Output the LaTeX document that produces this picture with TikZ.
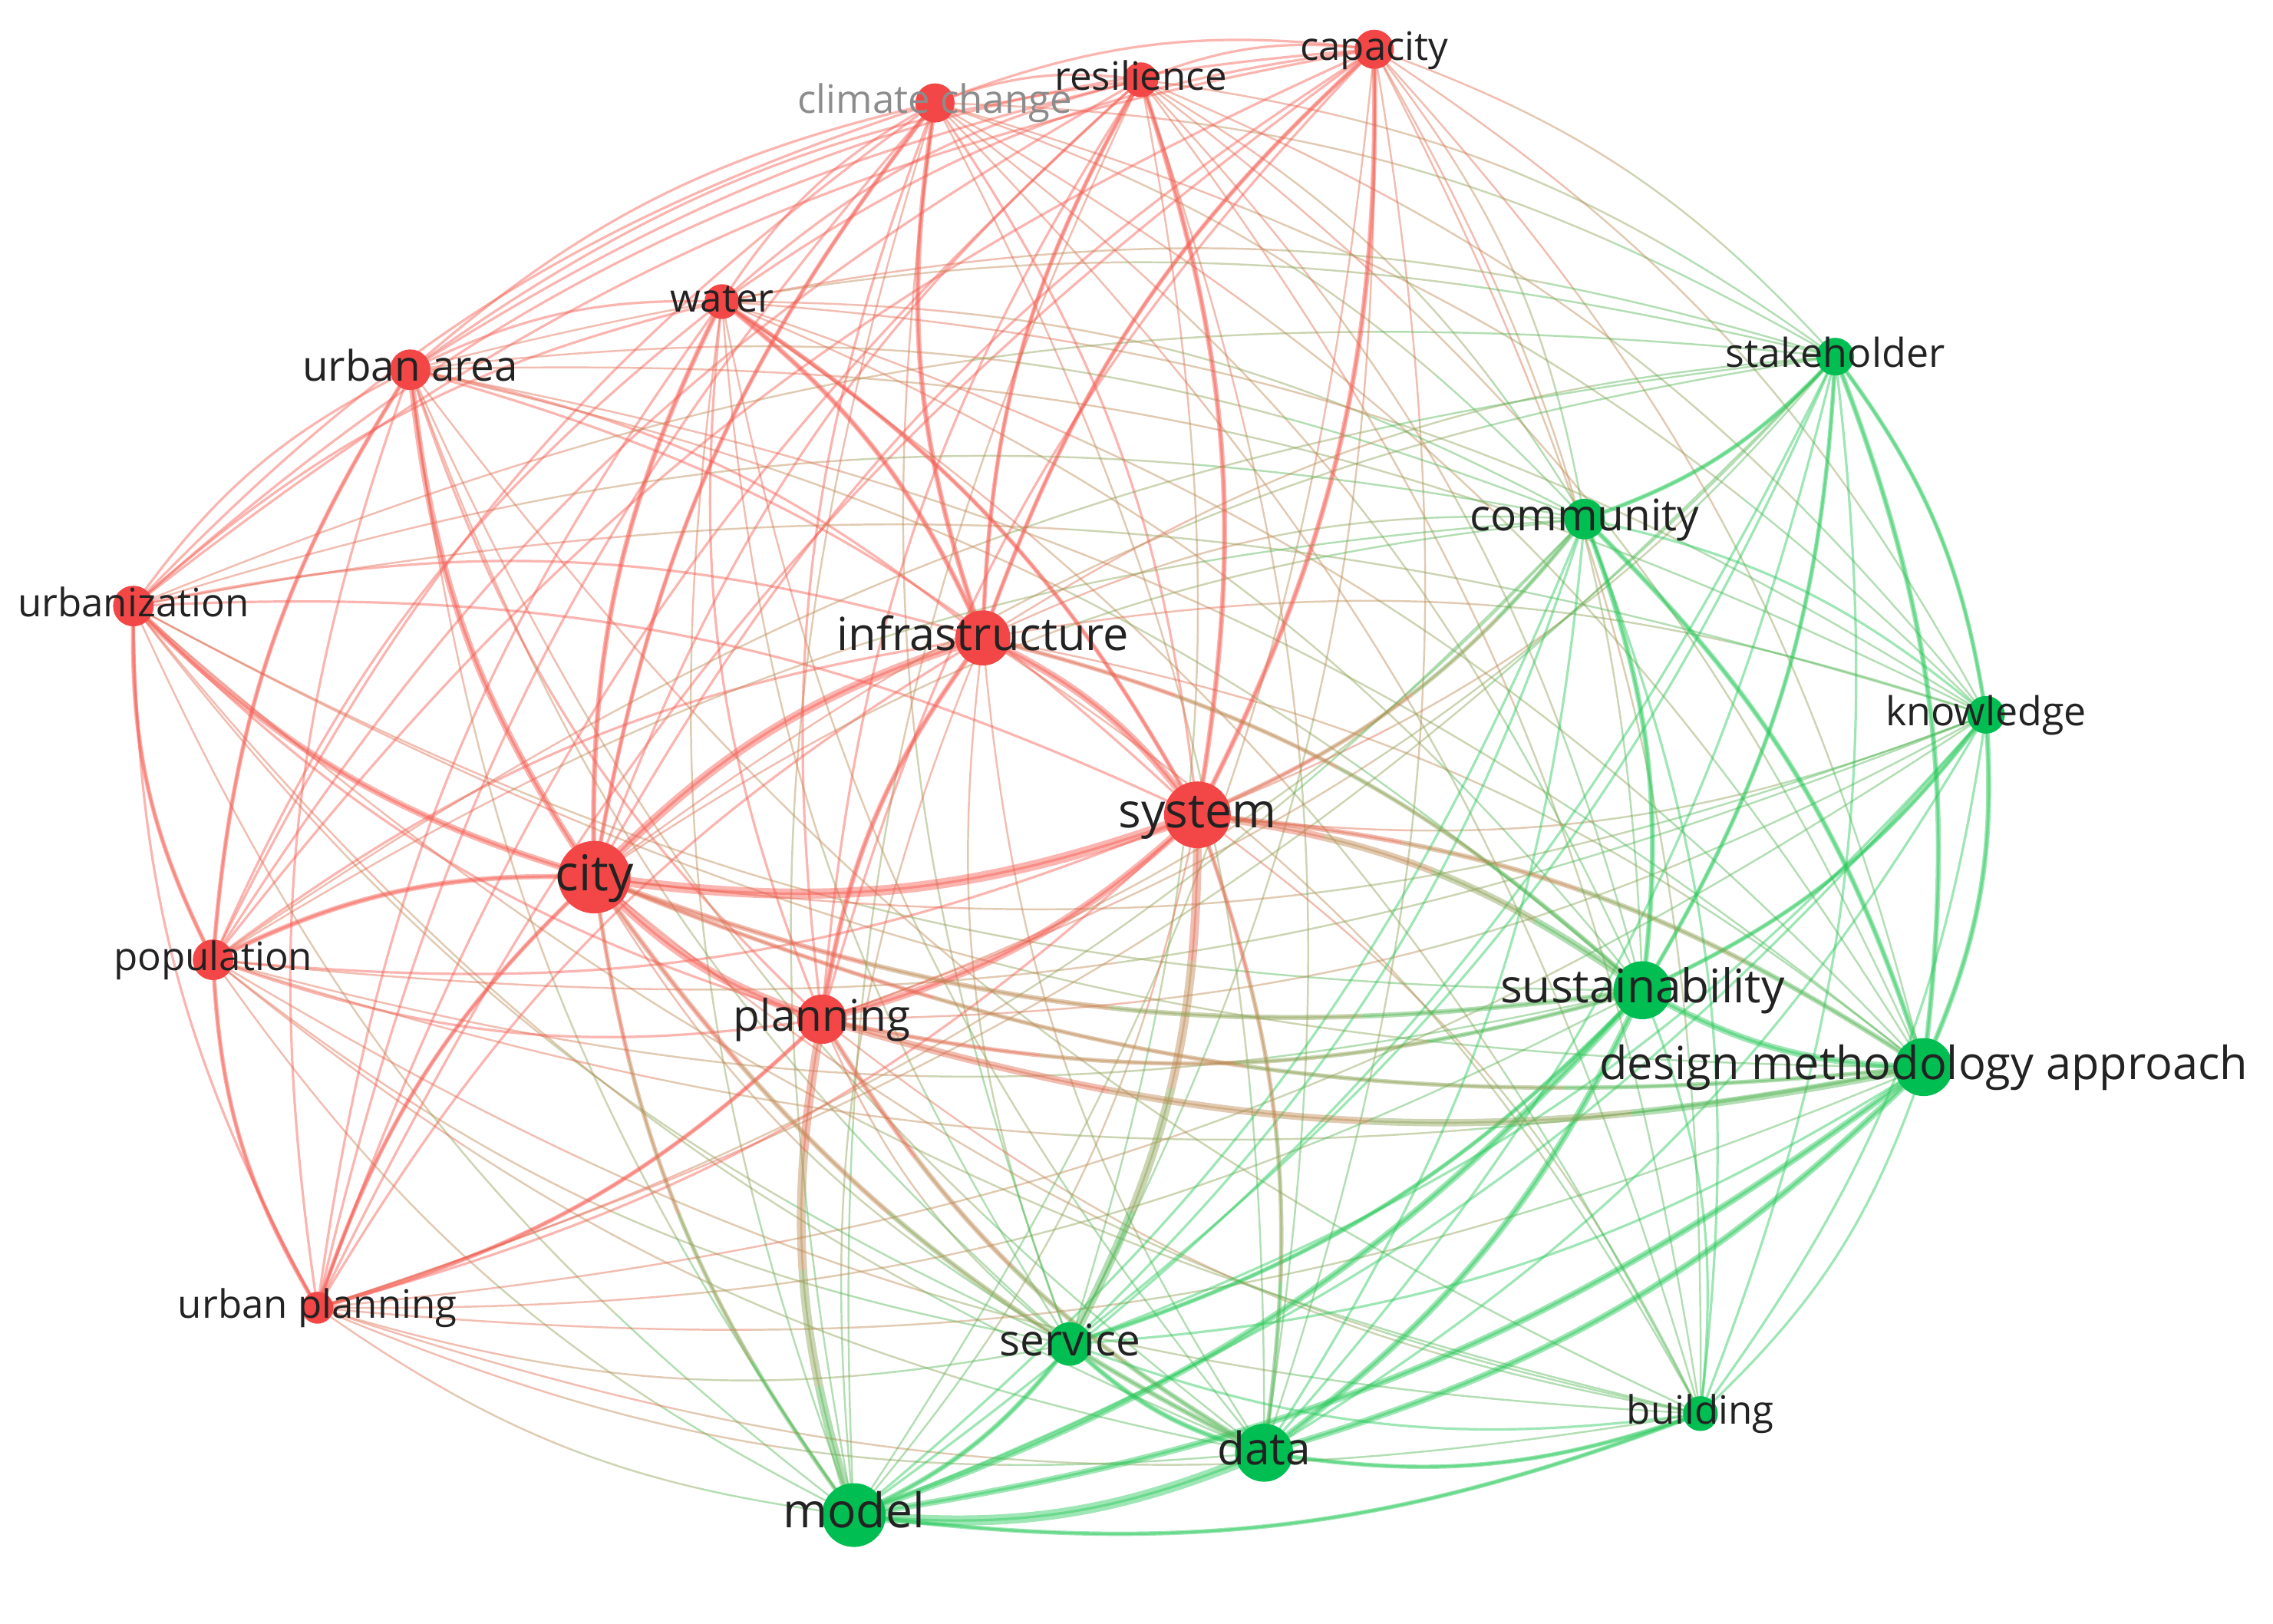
\documentclass[tikz,border=0pt]{standalone}
\usepackage{fontspec}
\setmainfont{Open Sans}
\usetikzlibrary{calc}
\definecolor{nred}{RGB}{243,70,70}
\definecolor{ngreen}{RGB}{0,190,82}
\definecolor{c-rr}{RGB}{245,90,80}
\definecolor{c-gg}{RGB}{40,200,90}
\definecolor{c-tan}{RGB}{175,150,85}
\colorlet{c-s1}{c-rr!70!c-tan}
\colorlet{c-s2}{c-tan!80!c-rr}
\colorlet{c-s3}{c-tan!75!c-gg}
\colorlet{c-s4}{c-gg!65!c-tan}
\definecolor{txt}{RGB}{34,34,34}
\definecolor{txtgrey}{RGB}{140,140,140}
\pgfdeclarelayer{bg}
\pgfsetlayers{bg,main}
\tikzset{
 edge/.style={draw=#1, draw opacity=0.45},
 rnode/.style={circle, fill=nred, inner sep=0pt, minimum size=#1},
 gnode/.style={circle, fill=ngreen, inner sep=0pt, minimum size=#1},
 lab/.style={inner sep=0pt, anchor=base},
}
\newcommand\mynode[5]{%
 \expandafter\gdef\csname px@#1\endcsname{#2}%
 \expandafter\gdef\csname py@#1\endcsname{#3}%
 \node[#4=#5] (#1) at (#2,#3) {};}
\newcommand\ctrlang[2]{%
 \pgfmathsetmacro\z{((\csname px@#2\endcsname-\csname px@#1\endcsname)/100)*((560-\csname py@#1\endcsname)/100)-((\csname py@#2\endcsname-\csname py@#1\endcsname)/100)*((730-\csname px@#1\endcsname)/100)}%
 \pgfmathsetmacro\angA{\z>0 ? 14 : -14}%
 \pgfmathsetmacro\angB{\z>0 ? -14 : 14}}
\newcommand\myedge[4]{%
 \ctrlang{#1}{#2}%
 \draw[edge=c-#4, line width=#3pt] (#1.center) .. controls ($(#1)!0.39!\angA:(#2)$) and ($(#2)!0.39!\angB:(#1)$) .. (#2.center);}
\newcommand\halve[5]{%
 \coordinate (#5a) at ($(#1)!0.5!(#2)$);
 \coordinate (#5b) at ($(#2)!0.5!(#3)$);
 \coordinate (#5c) at ($(#3)!0.5!(#4)$);
 \coordinate (#5d) at ($(#5a)!0.5!(#5b)$);
 \coordinate (#5e) at ($(#5b)!0.5!(#5c)$);
 \coordinate (#5m) at ($(#5d)!0.5!(#5e)$);}
\newcommand\mixedge[3]{%
 \ctrlang{#1}{#2}%
 \coordinate (p1) at ($(#1)!0.39!\angA:(#2)$);
 \coordinate (p2) at ($(#2)!0.39!\angB:(#1)$);
 \halve{#1.center}{p1}{p2}{#2.center}{h}%
 \halve{#1.center}{ha}{hd}{hm}{l}%
 \halve{hm}{he}{hc}{#2.center}{r}%
 \draw[edge=c-s1, line width=#3pt] (#1.center) .. controls (la) and (ld) .. (lm);
 \draw[edge=c-s2, line width=#3pt] (lm) .. controls (le) and (lc) .. (hm);
 \draw[edge=c-s3, line width=#3pt] (hm) .. controls (ra) and (rd) .. (rm);
 \draw[edge=c-s4, line width=#3pt] (rm) .. controls (re) and (rc) .. (#2.center);}
\newcommand\mylbl[4]{%
 \node[lab, text=#4, font=\fontsize{#3pt}{#3pt}\selectfont] (#1-l) at ([yshift={-0.27*#3pt}]#1) {#2};}
\begin{document}
\begin{tikzpicture}[x=1pt,y=-1pt]
\useasboundingbox (0,0) rectangle (1568,1120);
% nodes
\mynode{cc}{645}{71}{rnode}{27pt}
\mynode{res}{787}{55}{rnode}{24pt}
\mynode{cap}{948}{34}{rnode}{27pt}
\mynode{wat}{498}{208}{rnode}{24pt}
\mynode{ua}{283}{255}{rnode}{28pt}
\mynode{urb}{92}{418}{rnode}{28pt}
\mynode{inf}{678}{440}{rnode}{38pt}
\mynode{sys}{826}{562}{rnode}{46pt}
\mynode{city}{410}{605}{rnode}{50pt}
\mynode{pop}{147}{662}{rnode}{28pt}
\mynode{pla}{567}{703}{rnode}{34pt}
\mynode{up}{219}{902}{rnode}{22pt}
\mynode{ser}{738}{927}{gnode}{30pt}
\mynode{mod}{589}{1045}{gnode}{44pt}
\mynode{dat}{872}{1002}{gnode}{40pt}
\mynode{bld}{1173}{975}{gnode}{24pt}
\mynode{stk}{1266}{246}{gnode}{26pt}
\mynode{com}{1093}{358}{gnode}{28pt}
\mynode{kno}{1370}{493}{gnode}{26pt}
\mynode{sus}{1133}{683}{gnode}{40pt}
\mynode{dma}{1327}{736}{gnode}{40pt}
% edges
\begin{pgfonlayer}{bg}
\foreach \a/\ga [count=\i] in {cc/r,res/r,cap/r,wat/r,ua/r,urb/r,inf/r,sys/r,city/r,pop/r,pla/r,up/r,ser/g,mod/g,dat/g,bld/g,stk/g,com/g,kno/g,sus/g,dma/g}{
  \foreach \b/\gb [count=\j] in {cc/r,res/r,cap/r,wat/r,ua/r,urb/r,inf/r,sys/r,city/r,pop/r,pla/r,up/r,ser/g,mod/g,dat/g,bld/g,stk/g,com/g,kno/g,sus/g,dma/g}{
    \ifnum\j>\i
      \if\ga\gb \myedge{\a}{\b}{1.7}{\ga\gb}\else \mixedge{\a}{\b}{1.3}\fi
    \fi
  }
}
\foreach \a/\b/\w/\c in {city/sys/7/rr, city/inf/6/rr, city/pla/6/rr, sys/inf/5/rr, sys/pla/5/rr,
  city/ua/4.5/rr, city/urb/4.5/rr, city/pop/3.5/rr, inf/pla/3.5/rr, inf/wat/3.5/rr, city/wat/3.5/rr,
  sys/cap/3.5/rr, sys/res/3.5/rr, inf/cc/3.5/rr, urb/pop/3/rr, ua/pop/3/rr, pop/up/3/rr,
  city/up/3/rr, pla/up/3/rr, inf/res/3/rr, inf/cap/3/rr, sys/wat/3/rr, city/cc/3/rr,
  mod/dat/7/gg, mod/sus/4.5/gg, mod/dma/4.5/gg, dat/dma/4.5/gg, dat/sus/4.5/gg, sus/dma/4.5/gg,
  ser/dat/3.5/gg, ser/mod/3.5/gg, stk/dma/3.5/gg, kno/dma/3.5/gg, stk/sus/3/gg, com/sus/3.5/gg,
  com/dma/3.5/gg, dat/bld/3/gg, mod/bld/3/gg, kno/sus/3/gg, stk/kno/3/gg,
  com/stk/3/gg, sus/ser/3/gg}{
  \myedge{\a}{\b}{\w}{\c}
}
\foreach \a/\b/\w in {sys/ser/6, pla/mod/6, pla/dma/5, sys/sus/5, city/sus/3.5, sys/dma/3.5,
  city/dat/3.5, pla/dat/3.5, sys/dat/3, city/mod/3, city/dma/3, inf/sus/3, sys/com/3, pla/sus/3}{
  \mixedge{\a}{\b}{\w}
}
\end{pgfonlayer}
% labels
\mylbl{cc}{climate change}{27}{txtgrey}
\mylbl{res}{resilience}{27}{txt}
\mylbl{cap}{capacity}{27}{txt}
\mylbl{wat}{water}{27}{txt}
\mylbl{ua}{urban area}{29}{txt}
\mylbl{urb}{urbanization}{27}{txt}
\mylbl{inf}{infrastructure}{31.5}{txt}
\mylbl{sys}{system}{33}{txt}
\mylbl{city}{city}{34}{txt}
\mylbl{pop}{population}{27}{txt}
\mylbl{pla}{planning}{30}{txt}
\mylbl{up}{urban planning}{27}{txt}
\mylbl{ser}{service}{30}{txt}
\mylbl{mod}{model}{33}{txt}
\mylbl{dat}{data}{31}{txt}
\mylbl{bld}{building}{27}{txt}
\mylbl{stk}{stakeholder}{27.5}{txt}
\mylbl{com}{community}{30}{txt}
\mylbl{kno}{knowledge}{27.5}{txt}
\mylbl{sus}{sustainability}{32}{txt}
\mylbl{dma}{design methodology approach}{31.5}{txt}
\end{tikzpicture}
\end{document}
